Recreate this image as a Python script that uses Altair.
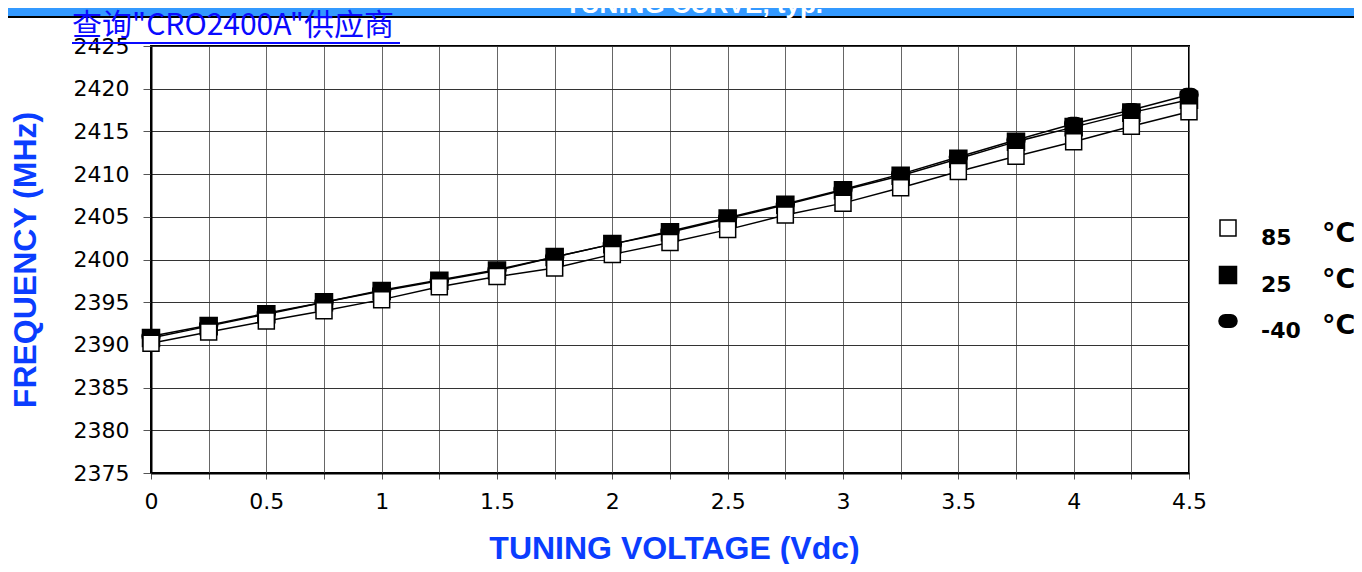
import altair as alt
import pandas as pd

voltage = [0, 0.25, 0.5, 0.75, 1, 1.25, 1.5, 1.75, 2, 2.25, 2.5, 2.75, 3, 3.25, 3.5, 3.75, 4, 4.25, 4.5]
freq_m40 = [2391.0, 2392.3, 2393.7, 2395.0, 2396.4, 2397.6, 2398.8, 2400.3, 2401.8, 2403.3, 2404.9, 2406.5,
            2408.2, 2410.0, 2412.0, 2414.0, 2415.9, 2417.5, 2419.3]
freq_25 = [2390.8, 2392.2, 2393.6, 2395.0, 2396.3, 2397.5, 2398.7, 2400.3, 2401.8, 2403.2, 2404.8, 2406.4,
           2408.1, 2409.8, 2411.8, 2413.8, 2415.5, 2417.2, 2418.7]
freq_85 = [2390.2, 2391.5, 2392.8, 2394.0, 2395.3, 2396.8, 2398.0, 2399.0, 2400.6, 2402.0, 2403.5, 2405.2,
           2406.6, 2408.4, 2410.3, 2412.1, 2413.8, 2415.6, 2417.3]
series_names = ["85", "25", "-40"]
x_ticks = [0, 0.25, 0.5, 0.75, 1, 1.25, 1.5, 1.75, 2, 2.25, 2.5, 2.75, 3, 3.25, 3.5, 3.75, 4, 4.25, 4.5]
y_ticks = [2375, 2380, 2385, 2390, 2395, 2400, 2405, 2410, 2415, 2420, 2425]

# draw order: -40 at the bottom, then 25, then 85 on top
rows = []
for name, vals in [("-40", freq_m40), ("25", freq_25), ("85", freq_85)]:
    for v, f in zip(voltage, vals):
        rows.append({"series": name, "v": v, "f": f})
df = pd.DataFrame(rows)

W, H = 1038, 427
stadium = "M-0.3,-0.7L0.3,-0.7A0.7,0.7,0,0,1,0.3,0.7L-0.3,0.7A0.7,0.7,0,0,1,-0.3,-0.7Z"
title_blue = "#0A3DFF"
link_blue = "#0A0AFF"

x_enc = alt.X("v:Q", scale=alt.Scale(domain=[0, 4.5], nice=False, zero=False),
              axis=alt.Axis(values=x_ticks, title="TUNING VOLTAGE (Vdc)",
                            labelExpr="(datum.value * 2) % 1 == 0 ? format(datum.value, '~g') : ''",
                            labelFlush=False, labelOverlap=False,
                            tickSize=6, labelPadding=12, titleX=523, titleY=85,
                            titleBaseline="alphabetic", titleAlign="center"))
y_enc = alt.Y("f:Q", scale=alt.Scale(domain=[2375, 2425], nice=False, zero=False),
              axis=alt.Axis(values=y_ticks, title="FREQUENCY (MHz)", format="d",
                            labelFlush=False, labelOverlap=False,
                            tickSize=8, labelPadding=14, titleX=-116, titleY=213.5,
                            titleBaseline="alphabetic", titleAlign="center", titleAngle=270))

lines = alt.Chart(df).mark_line(color="black", strokeWidth=1.5).encode(
    x=x_enc, y=y_enc, detail="series:N", order="v:Q")

leg = alt.Legend(orient="none", legendX=1066, legendY=171, labelFontSize=22,
                 labelFont="DejaVu Sans", labelFontWeight="bold", labelColor="black",
                 labelBaseline="top", labelOffset=22, rowPadding=14, padding=0,
                 symbolStrokeWidth=1.5)

points = alt.Chart(df).mark_point(filled=True, strokeWidth=1.5, opacity=1).encode(
    x="v:Q", y="f:Q",
    shape=alt.Shape("series:N", title=None, sort=series_names,
                    scale=alt.Scale(domain=series_names, range=["square", "square", stadium]), legend=leg),
    fill=alt.Fill("series:N", title=None, sort=series_names,
                  scale=alt.Scale(domain=series_names, range=["white", "black", "black"]), legend=leg),
    stroke=alt.Stroke("series:N", title=None, sort=series_names,
                      scale=alt.Scale(domain=series_names, range=["black", "black", "black"]), legend=leg),
    size=alt.Size("series:N", title=None, sort=series_names,
                  scale=alt.Scale(domain=series_names, range=[256, 324, 420]), legend=leg),
)

one = pd.DataFrame({"a": [0]})

bar = alt.Chart(one).mark_rect(color="#3399FF").encode(
    x=alt.value(-151), x2=alt.value(1211), y=alt.value(-46), y2=alt.value(-30))
bar_line = alt.Chart(one).mark_rect(color="black").encode(
    x=alt.value(-151), x2=alt.value(1211), y=alt.value(-30), y2=alt.value(-28))
top_title = alt.Chart(one).mark_text(text="TUNING CURVE, typ.", color="white", font="Liberation Sans",
                                     fontWeight="bold", fontSize=26, align="center",
                                     baseline="alphabetic").encode(x=alt.value(543), y=alt.value(-33))
link = alt.Chart(one).mark_text(text='查询"CRO2400A"供应商', color=link_blue, font="Noto Sans CJK SC",
                                fontSize=30, align="left", baseline="alphabetic").encode(
    x=alt.value(-79), y=alt.value(-11))
underline = alt.Chart(one).mark_rect(color=link_blue).encode(
    x=alt.value(-79), x2=alt.value(249), y=alt.value(-4), y2=alt.value(-2))


def degc(ypix):
    return alt.Chart(one).mark_text(text="°C", color="black", font="DejaVu Sans", fontWeight="bold",
                                    fontSize=27, align="left", baseline="alphabetic").encode(
        x=alt.value(1171), y=alt.value(ypix))


chart = alt.layer(lines, points, bar, bar_line, top_title, link, underline,
                  degc(196), degc(242), degc(288)).properties(
    width=W, height=H,
    autosize=alt.AutoSizeParams(type="none"),
    padding={"left": 143, "top": 38, "right": 165, "bottom": 91},
).configure_view(stroke="black", strokeWidth=2).configure_axis(
    labelFont="DejaVu Sans", labelFontSize=22, labelColor="black",
    titleFont="Liberation Sans", titleFontWeight="bold", titleFontSize=32, titleColor=title_blue,
    domainColor="black", domainWidth=2, tickColor="#555555", tickWidth=1,
    grid=True, gridColor="#333333", gridWidth=1, gridOpacity=1,
).configure_axisX(gridColor="#666666")

chart.save("out.html", embed_options={"renderer": "svg", "actions": False})
